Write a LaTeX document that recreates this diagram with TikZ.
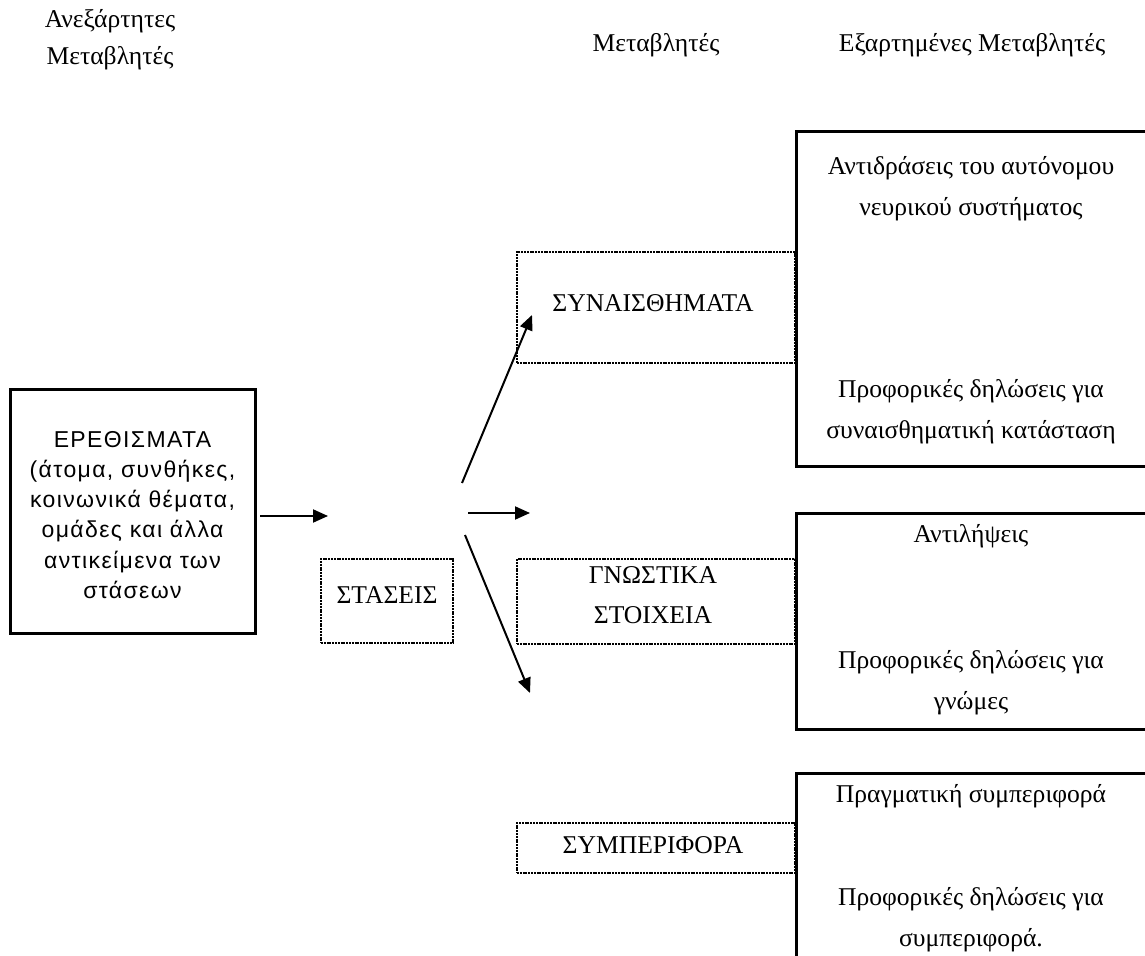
\documentclass[tikz,border=0pt]{standalone}
\usepackage{fontspec}
\setmainfont{Liberation Serif}
\newfontfamily\boxsans[LetterSpace=6]{Liberation Sans}
\usetikzlibrary{arrows.meta,fit}
\begin{document}
\begin{tikzpicture}[x=0.5pt,y=-0.5pt,
  serift/.style={font=\fontsize{12.8}{15}\selectfont, inner sep=0pt, anchor=base},
  sanst/.style={font=\boxsans\fontsize{11.5}{14}\selectfont, inner sep=0pt, anchor=base},
  solidbox/.style={draw, line width=1.5pt, inner sep=0pt},
  dotbox/.style={draw, line width=0.6pt, dash pattern=on 1pt off 0.4pt, inner sep=0pt},
  arr/.style={line width=1pt, -{Triangle[length=7.5pt,width=6.5pt]}}]
\useasboundingbox (0,0) rectangle (1145,956);
\clip (0,0) rectangle (1145,956);
% headers
\node[serift] (hA1) at (110,28) {Ανεξάρτητες};
\node[serift] (hA2) at (110,65) {Μεταβλητές};
\node[serift] (hB) at (656,52) {Μεταβλητές};
\node[serift] (hC) at (972,52) {Εξαρτημένες Μεταβλητές};
% dotted boxes
\node[dotbox, fit={(321,559) (453,643)}] (stas) {};
\node[dotbox, fit={(517,252) (795,363)}] (syn) {};
\node[dotbox, fit={(517,559) (795,644)}] (gno) {};
\node[dotbox, fit={(517,823) (795,873)}] (sym) {};
% solid boxes
\node[solidbox, fit={(10,390) (255,633)}] (stim) {};
\node[solidbox, fit={(796,132) (1160,467)}] (r1) {};
\node[solidbox, fit={(796,514) (1160,729)}] (r2) {};
\node[solidbox, fit={(796,773) (1160,980)}] (r3) {};
% left box text
\node[sanst] (s1) at (132.5,448) {ΕΡΕΘΙΣΜΑΤΑ};
\node[sanst] (s2) at (132.5,478) {(άτομα, συνθήκες,};
\node[sanst] (s3) at (132.5,508) {κοινωνικά θέματα,};
\node[sanst] (s4) at (132.5,538) {ομάδες και άλλα};
\node[sanst] (s5) at (132.5,568) {αντικείμενα των};
\node[sanst] (s6) at (132.5,598) {στάσεων};
% middle texts
\node[serift] (tstas) at (387,603) {ΣΤΑΣΕΙΣ};
\node[serift] (tsyn) at (653,312) {ΣΥΝΑΙΣΘΗΜΑΤΑ};
\node[serift] (tgno1) at (653,583) {ΓΝΩΣΤΙΚΑ};
\node[serift] (tgno2) at (653,623) {ΣΤΟΙΧΕΙΑ};
\node[serift] (tsym) at (653,853) {ΣΥΜΠΕΡΙΦΟΡΑ};
% right texts
\node[serift] (r1a) at (971,175) {Αντιδράσεις του αυτόνομου};
\node[serift] (r1b) at (971,216) {νευρικού συστήματος};
\node[serift] (r1c) at (971,398) {Προφορικές δηλώσεις για};
\node[serift] (r1d) at (971,439) {συναισθηματική κατάσταση};
\node[serift] (r2a) at (971,543) {Αντιλήψεις};
\node[serift] (r2b) at (971,668) {Προφορικές δηλώσεις για};
\node[serift] (r2c) at (971,709) {γνώμες};
\node[serift] (r3a) at (971,802) {Πραγματική συμπεριφορά};
\node[serift] (r3b) at (971,905) {Προφορικές δηλώσεις για};
\node[serift] (r3c) at (971,946) {συμπεριφορά.};
% arrows
\coordinate (a1s) at (260,516);
\coordinate (a1e) at (328,516);
\coordinate (fanU) at (462,483);
\coordinate (fanM) at (468,513);
\coordinate (fanD) at (465,535);
\coordinate (tipU) at (532,315);
\coordinate (tipM) at (530,513);
\coordinate (tipD) at (530,693);
\draw[arr] (a1s) -- (a1e);
\draw[arr] (fanU) -- (tipU);
\draw[arr] (fanM) -- (tipM);
\draw[arr] (fanD) -- (tipD);
\end{tikzpicture}
\end{document}
